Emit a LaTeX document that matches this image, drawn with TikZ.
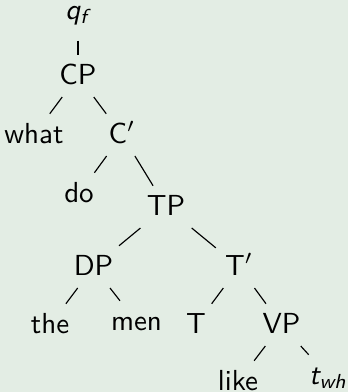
\documentclass[tikz,border=0pt]{standalone}
\definecolor{bg}{RGB}{227,237,228}
\begin{document}
\begin{tikzpicture}[x=0.345pt,y=-0.345pt,
  lbl/.style={anchor=base,font=\sffamily,inner sep=3pt,text height=1.6ex,text depth=0.3ex},
  branch/.style={line width=0.4pt}]
\fill[bg] (0,0) rectangle (348,392);
\useasboundingbox (0,0) rectangle (348,392);
\node[lbl] (qf) at (77,19) {\itshape q\textsubscript{f}};
\node[lbl] (CP) at (78,84) {CP};
\node[lbl] (what) at (34,143) {what};
\node[lbl] (Cb) at (122,143) {C$'$};
\node[lbl] (do) at (79,202) {do};
\node[lbl] (TP) at (166,215) {TP};
\node[lbl] (DP) at (93.5,275) {DP};
\node[lbl] (Tb) at (239,275) {T$'$};
\node[lbl] (the) at (50,333) {the};
\node[lbl] (men) at (136.5,330) {men};
\node[lbl] (T) at (196,333) {T};
\node[lbl] (VP) at (281.5,333) {VP};
\node[lbl] (like) at (238,390) {like};
\node[lbl] (twh) at (328,384) {\itshape t\textsubscript{wh}};
\draw[branch,shorten <=3pt] (qf.south -| CP) -- (CP);
\draw[branch] (CP) -- (what);
\draw[branch] (CP) -- (Cb);
\draw[branch] (Cb) -- (do);
\draw[branch] (Cb) -- (TP);
\draw[branch] (TP) -- (DP);
\draw[branch] (TP) -- (Tb);
\draw[branch] (DP) -- (the);
\draw[branch] (DP) -- (men);
\draw[branch] (Tb) -- (T);
\draw[branch] (Tb) -- (VP);
\draw[branch] (VP) -- (like);
\draw[branch] (VP) -- (twh);
\end{tikzpicture}
\end{document}
